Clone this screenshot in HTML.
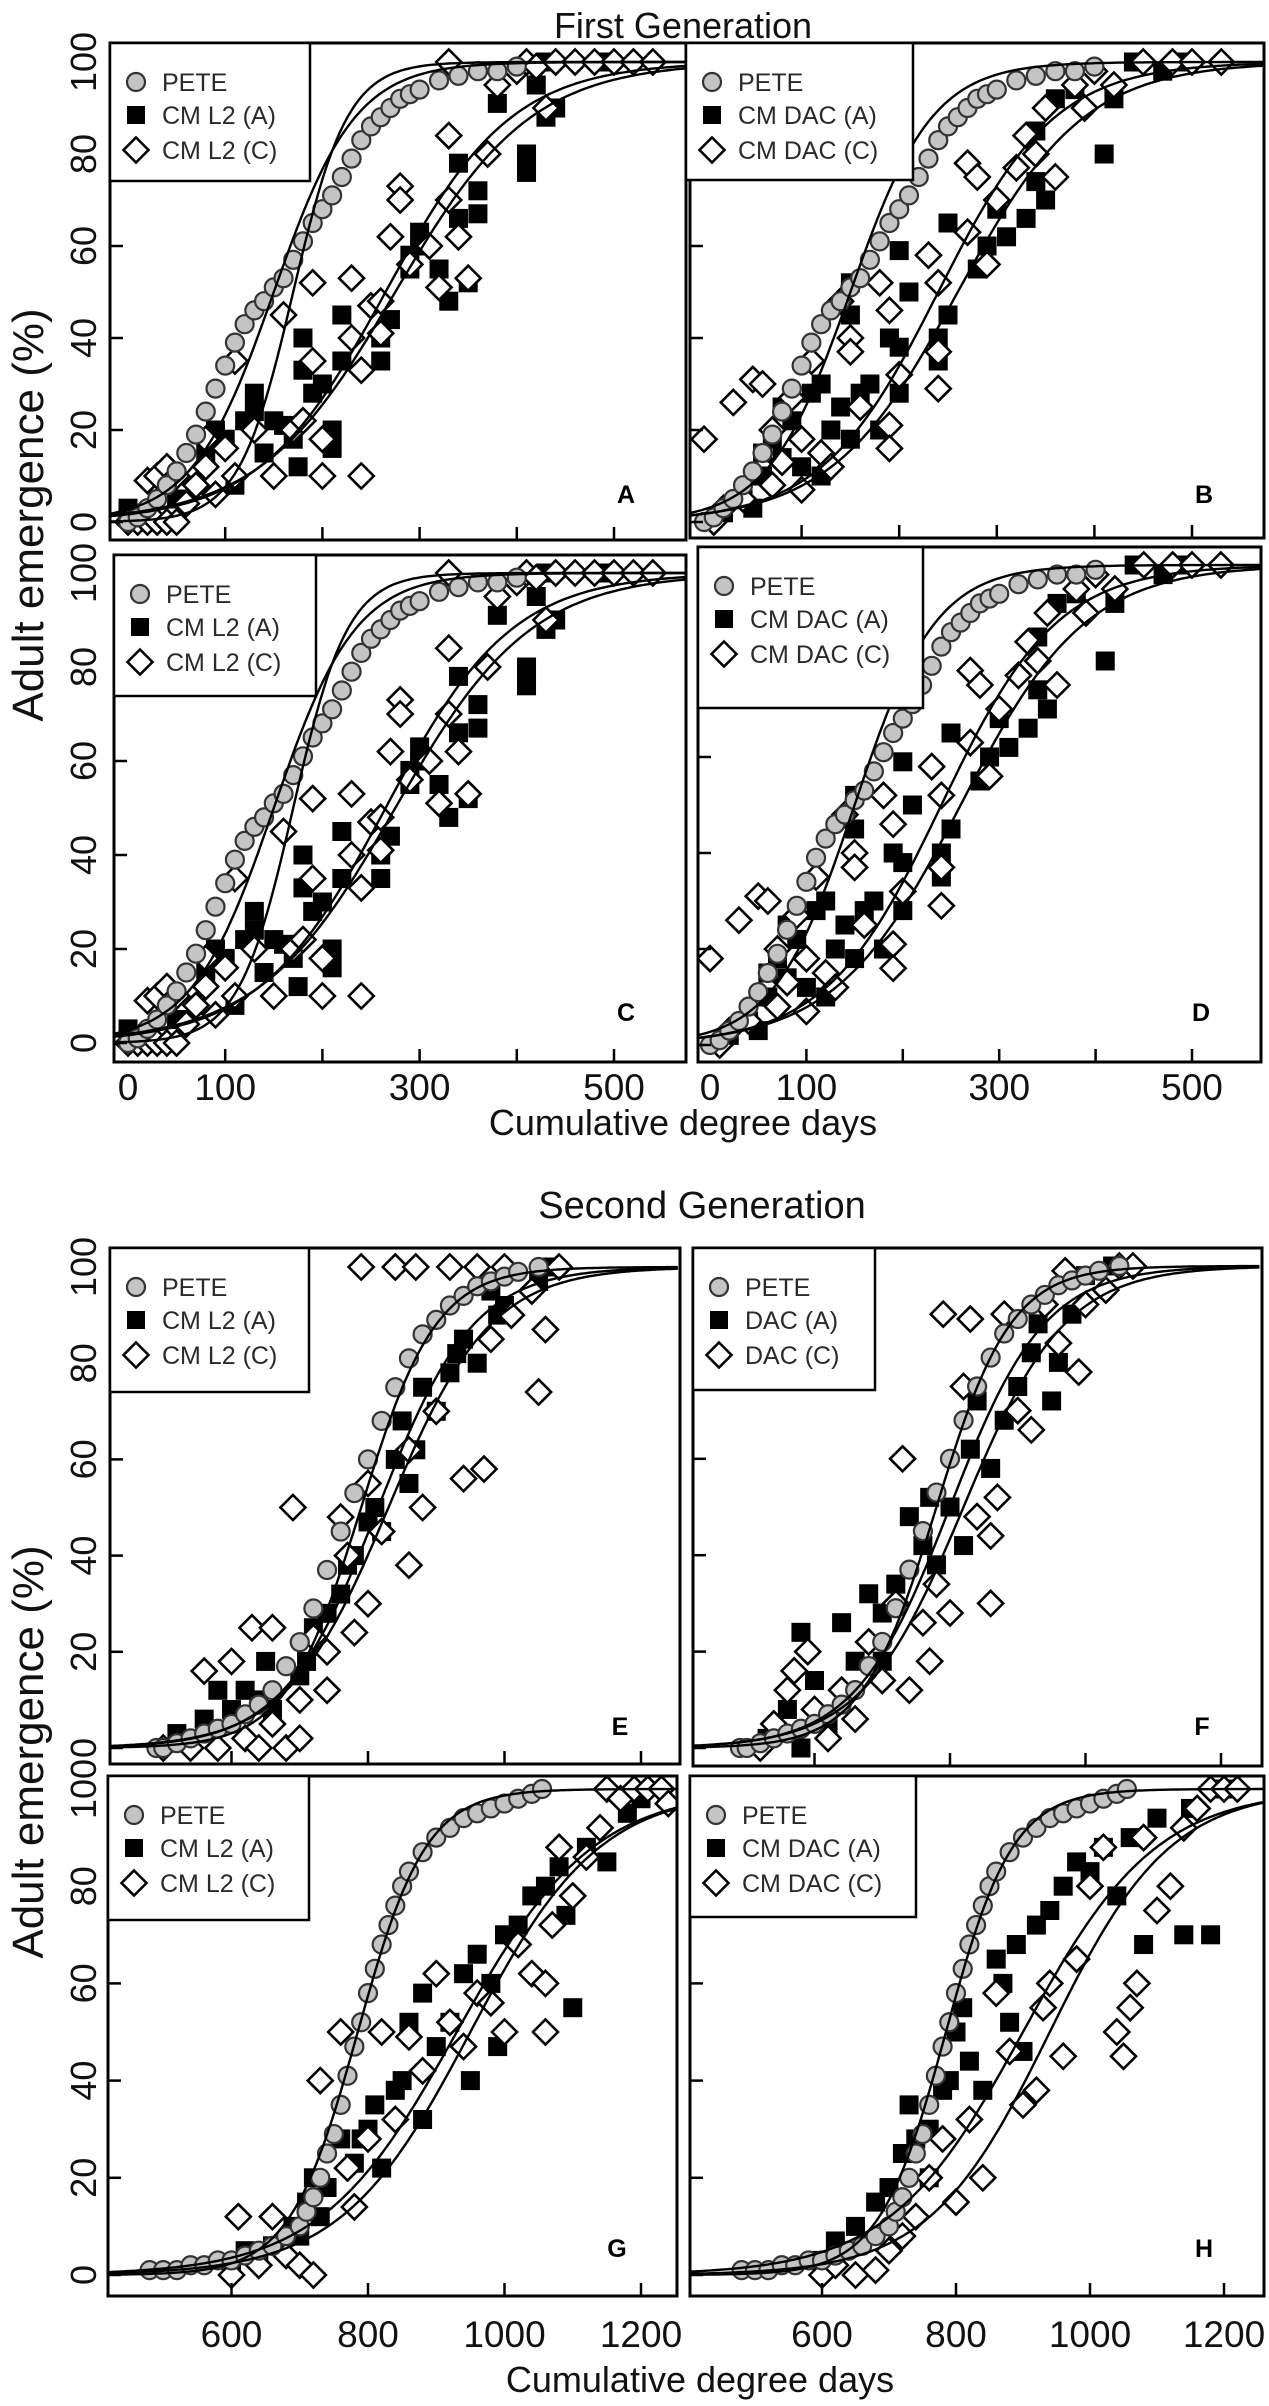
<!DOCTYPE html>
<html><head><meta charset="utf-8">
<style>
html,body{margin:0;padding:0;background:#fff;}
svg{display:block;font-family:"Liberation Sans",Arial,sans-serif;}
</style></head>
<body>
<svg id="fig" width="1269" height="2406" viewBox="0 0 1269 2406" xmlns="http://www.w3.org/2000/svg">
<rect x="0" y="0" width="1269" height="2406" fill="#fff"/>
<text x="683" y="38" font-size="36" text-anchor="middle" fill="#111">First Generation</text>
<text x="683" y="1135" font-size="36" text-anchor="middle" fill="#111">Cumulative degree days</text>
<text x="702" y="1218" font-size="38" text-anchor="middle" fill="#111">Second Generation</text>
<text x="700" y="2392" font-size="36" text-anchor="middle" fill="#111">Cumulative degree days</text>
<text transform="translate(43,515) rotate(-90)" font-size="44" text-anchor="middle" fill="#111">Adult emergence (%)</text>
<text transform="translate(43,1752) rotate(-90)" font-size="44" text-anchor="middle" fill="#111">Adult emergence (%)</text>
<g id="panels"></g>
</svg>
<script>
// ---------- DATA (degree days, % emergence) ----------
const gen1Pete = [[0,0],[10,1],[20,3],[30,5],[40,8],[50,11],[60,15],[70,19],[80,24],[90,29],[100,34],[110,39],[120,43],[130,46],[140,48],[150,51],[160,53],[170,57],[180,61],[190,65],[200,68],[210,71],[220,75],[230,79],[240,83],[250,86],[260,88],[270,90],[280,92],[290,93],[300,94],[320,96],[340,97],[360,98],[380,98],[400,99]];
const gen1L2A = [[0,3],[20,2],[50,5],[70,8],[80,15],[90,20],[100,18],[110,8],[120,22],[130,28],[130,24],[140,15],[150,22],[160,21],[170,18],[175,12],[180,33],[180,40],[190,28],[200,30],[210,20],[210,16],[220,45],[220,35],[260,35],[260,40],[270,44],[290,55],[290,58],[300,63],[300,60],[320,55],[330,48],[340,78],[340,66],[350,52],[360,67],[360,72],[380,91],[410,76],[410,80],[420,95],[430,88],[430,100],[440,90],[490,100]];
const gen1L2C = [[0,0],[10,0],[20,0],[30,0],[40,0],[50,0],[20,9],[30,10],[40,12],[50,10],[60,4],[70,8],[80,18],[80,12],[90,6],[100,16],[110,10],[110,35],[130,20],[150,10],[160,45],[170,20],[180,22],[190,52],[190,35],[200,18],[200,10],[230,53],[230,40],[240,33],[240,10],[250,47],[260,48],[260,41],[270,62],[280,73],[280,70],[290,56],[310,60],[320,51],[330,100],[330,84],[330,70],[340,62],[350,53],[370,80],[380,95],[400,98],[410,100],[420,99],[430,90],[440,100],[460,100],[480,100],[500,100],[520,100],[540,100]];
const gen1DacA = [[20,2],[40,5],[50,3],[60,10],[60,15],[70,18],[80,14],[80,25],[90,22],[100,12],[110,28],[120,30],[120,10],[130,20],[140,25],[150,18],[150,45],[150,52],[160,28],[170,30],[180,20],[190,40],[200,38],[200,28],[200,59],[210,50],[240,40],[240,35],[250,45],[250,65],[280,55],[290,60],[300,68],[310,62],[330,66],[340,74],[340,85],[350,70],[360,92],[380,94],[410,80],[420,92],[440,100],[470,98],[490,100]];
const gen1DacC = [[0,18],[10,0],[20,3],[30,26],[40,5],[50,31],[60,30],[70,20],[70,8],[80,13],[90,27],[100,18],[100,7],[110,35],[120,15],[130,12],[140,48],[150,40],[150,37],[160,25],[180,52],[190,46],[190,21],[190,16],[200,32],[230,58],[240,52],[240,37],[240,29],[270,78],[270,63],[280,75],[290,56],[300,70],[320,77],[330,84],[340,80],[350,90],[360,75],[380,95],[390,90],[400,98],[420,95],[450,100],[480,100],[500,100],[530,100]];
const gen2PeteE = [[490,0],[500,0],[520,1],[540,2],[560,3],[580,4],[600,5],[620,7],[640,9],[660,12],[680,17],[700,22],[720,29],[740,37],[760,45],[780,53],[800,60],[820,68],[840,75],[860,81],[880,86],[900,89],[920,92],[940,94],[960,96],[980,97],[1000,98],[1020,99],[1050,100]];
const gen2L2A_E = [[520,3],[560,6],[580,12],[600,8],[620,12],[640,10],[650,18],[660,8],[700,15],[710,18],[720,25],[740,28],[760,32],[770,38],[780,40],[800,47],[810,50],[820,45],[840,60],[850,68],[860,55],[870,62],[880,75],[900,70],[920,78],[930,82],[940,85],[960,80],[980,95],[990,90],[1000,92],[1050,97],[1070,100]];
const gen2L2C_E = [[500,0],[540,0],[560,16],[580,0],[600,18],[620,2],[630,25],[660,25],[640,0],[660,5],[680,0],[690,50],[700,10],[700,2],[720,23],[740,20],[740,12],[760,48],[770,40],[780,24],[790,100],[800,30],[800,55],[820,45],[840,100],[860,62],[860,38],[870,100],[880,50],[900,70],[920,100],[940,56],[960,100],[970,58],[980,85],[1000,100],[1010,90],[1040,95],[1050,74],[1060,87],[1080,100]];
const gen2DacA_F = [[530,2],[560,8],[580,0],[580,24],[600,14],[620,5],[640,26],[660,18],[680,32],[700,28],[700,18],[720,34],[740,48],[760,42],[770,52],[780,38],[800,50],[820,42],[830,62],[840,72],[860,58],[880,68],[900,75],[920,82],[930,88],[950,72],[960,80],[980,90],[1000,98],[1040,100]];
const gen2DacC_F = [[520,0],[540,5],[560,12],[570,16],[590,20],[600,8],[620,2],[640,12],[660,6],[680,22],[700,14],[720,30],[730,60],[740,12],[760,26],[770,18],[780,34],[790,90],[800,28],[820,75],[830,89],[840,48],[860,44],[860,30],[870,52],[880,90],[900,70],[920,66],[940,92],[960,84],[970,99],[990,78],[1000,92],[1030,95],[1050,100],[1070,100]];
const gen2PeteG = [[480,1],[500,1],[520,1],[540,2],[560,2],[580,3],[600,3],[620,4],[640,5],[660,6],[680,8],[700,10],[710,13],[720,16],[730,20],[740,25],[750,29],[760,35],[770,41],[780,47],[790,52],[800,58],[810,63],[820,68],[830,72],[840,76],[850,80],[860,83],[880,87],[900,90],[920,92],[940,94],[960,95],[980,96],[1000,97],[1020,98],[1040,99],[1055,100]];
const gen2L2A_G = [[600,2],[620,5],[640,4],[660,6],[690,10],[700,8],[710,15],[720,20],[730,12],[740,18],[760,28],[780,23],[790,28],[800,30],[810,35],[820,22],[840,38],[850,40],[860,52],[880,32],[880,58],[900,47],[920,52],[940,62],[950,40],[960,66],[980,60],[990,47],[1000,70],[1020,72],[1040,78],[1060,80],[1080,84],[1090,74],[1100,55],[1120,88],[1150,85],[1180,95],[1200,98]];
const gen2L2C_G = [[600,0],[610,12],[640,2],[660,12],[680,4],[700,2],[720,0],[730,40],[760,50],[770,22],[780,14],[800,28],[820,50],[840,32],[860,49],[880,42],[900,62],[920,52],[940,47],[960,58],[980,56],[1000,50],[1020,68],[1040,62],[1060,50],[1060,60],[1070,72],[1080,88],[1100,78],[1120,86],[1140,92],[1150,100],[1170,98],[1190,100],[1210,100],[1230,100],[1240,97]];
const gen2DacA_H = [[600,3],[620,7],[650,10],[680,15],[700,18],[720,25],[730,35],[740,28],[760,30],[760,20],[780,38],[790,40],[800,50],[810,55],[820,44],[840,38],[860,65],[870,60],[880,52],[890,68],[900,46],[920,72],[940,75],[960,80],[980,85],[1000,83],[1020,88],[1040,78],[1060,90],[1080,68],[1100,94],[1140,70],[1150,96],[1180,70],[1200,100]];
const gen2DacC_H = [[600,0],[620,2],[650,0],[680,1],[700,5],[720,8],[740,12],[760,20],[780,28],[800,15],[820,32],[840,20],[860,58],[880,46],[900,35],[920,38],[930,55],[940,60],[960,45],[980,65],[1000,80],[1020,88],[1040,50],[1050,45],[1060,55],[1070,60],[1080,90],[1100,75],[1120,80],[1140,92],[1160,96],[1180,100],[1200,100],[1220,100]];
// fitted logistic curves [x50, scale]
const curvesL2g1 = [[150,42],[170,28],[265,65],[275,70]];
const curvesDACg1 = [[150,42],[240,60],[260,65]];
const curvesE = [[790,55],[815,70],[830,75]];
const curvesF = [[780,55],[800,70],[820,75]];
const curvesG = [[785,50],[930,100],[950,95]];
const curvesH = [[785,50],[900,100],[940,90]];
// tick values / labels
const yTickVals = [0,20,40,60,80,100];
const xTicksG1 = [100,200,300,400,500];
const xLabelsG1 = [0,100,300,500];
const xTicksG2 = [600,800,1000,1200];
const xLabelsG2 = [600,800,1000,1200];
const legendL2 = ["PETE","CM L2 (A)","CM L2 (C)"];
const legendDAC = ["PETE","CM DAC (A)","CM DAC (C)"];
const legendDACs = ["PETE","DAC (A)","DAC (C)"];

// ---------- LAYOUT ----------
const panels = [
 {id:'a',letter:'A',box:[110,43,686,540],xa:[0,128,500,614],ya:[0,522,100,62],pete:gen1Pete,sa:gen1L2A,dc:gen1L2C,curves:curvesL2g1,leg:legendL2,lb:[110,43,310,181],xt:xTicksG1,xl:null,yl:true,ly:503},
 {id:'b',letter:'B',box:[690,43,1264,538],xa:[0,704,500,1192],ya:[0,522,100,62],pete:gen1Pete,sa:gen1DacA,dc:gen1DacC,curves:curvesDACg1,leg:legendDAC,lb:[686,43,913,180],xt:xTicksG1,xl:null,yl:false,ly:503},
 {id:'c',letter:'C',box:[114,555,686,1062],xa:[0,128,500,614],ya:[0,1043,100,573],pete:gen1Pete,sa:gen1L2A,dc:gen1L2C,curves:curvesL2g1,leg:legendL2,lb:[114,555,316,696],xt:xTicksG1,xl:xLabelsG1,xly:1100,yl:true,ly:1021},
 {id:'d',letter:'D',box:[698,547,1261,1062],xa:[0,710,500,1192],ya:[0,1045,100,565],pete:gen1Pete,sa:gen1DacA,dc:gen1DacC,curves:curvesDACg1,leg:legendDAC,lb:[698,547,923,708],xt:xTicksG1,xl:xLabelsG1,xly:1100,yl:false,ly:1021},
 {id:'e',letter:'E',box:[110,1248,680,1764],xa:[800,368,1200,641],ya:[0,1748,100,1267],pete:gen2PeteE,sa:gen2L2A_E,dc:gen2L2C_E,curves:curvesE,leg:legendL2,lb:[110,1248,309,1392],xt:xTicksG2,xl:null,yl:true,ly:1735},
 {id:'f',letter:'F',box:[693,1248,1262,1766],xa:[800,950,1200,1221],ya:[0,1748,100,1266],pete:gen2PeteE,sa:gen2DacA_F,dc:gen2DacC_F,curves:curvesF,leg:legendDACs,lb:[693,1248,875,1390],xt:xTicksG2,xl:null,yl:false,ly:1735},
 {id:'g',letter:'G',box:[108,1776,677,2296],xa:[800,368,1200,641],ya:[0,2275,100,1789],pete:gen2PeteG,sa:gen2L2A_G,dc:gen2L2C_G,curves:curvesG,leg:legendL2,lb:[108,1776,309,1920],xt:xTicksG2,xl:xLabelsG2,xly:2347,yl:true,ly:2257},
 {id:'h',letter:'H',box:[690,1776,1264,2296],xa:[800,956,1200,1224],ya:[0,2275,100,1789],pete:gen2PeteG,sa:gen2DacA_H,dc:gen2DacC_H,curves:curvesH,leg:legendDAC,lb:[690,1776,916,1917],xt:xTicksG2,xl:xLabelsG2,xly:2347,yl:false,ly:2257}
];

const NS='http://www.w3.org/2000/svg';
const root=document.getElementById('panels');
function mk(tag,attrs,parent){const e=document.createElementNS(NS,tag);for(const k in attrs)e.setAttribute(k,attrs[k]);(parent||root).appendChild(e);return e;}
function sq(g,cx,cy,s){return mk('rect',{x:cx-s/2,y:cy-s/2,width:s,height:s,fill:'#000'},g);}
function dm(g,cx,cy,r){return mk('polygon',{points:`${cx},${cy-r} ${cx+r},${cy} ${cx},${cy+r} ${cx-r},${cy}`,fill:'#fff',stroke:'#000','stroke-width':2.6},g);}
function ci(g,cx,cy,r){return mk('circle',{cx:cx,cy:cy,r:r,fill:'#c4c4c4',stroke:'#333','stroke-width':2.2},g);}

panels.forEach(p=>{
  const sx=v=>p.xa[1]+(v-p.xa[0])*(p.xa[3]-p.xa[1])/(p.xa[2]-p.xa[0]);
  const sy=v=>p.ya[1]+(v-p.ya[0])*(p.ya[3]-p.ya[1])/(p.ya[2]-p.ya[0]);
  const [x0,y0,x1,y1]=p.box;
  const g=mk('g',{});
  
  
  const clip=mk('clipPath',{id:'clip-'+p.id},g);
  mk('rect',{x:x0,y:y0,width:x1-x0,height:y1-y0},clip);
  const pg=mk('g',{'clip-path':'url(#clip-'+p.id+')'},g);
  const gs=mk('g',{},pg);
  
  
  p.sa.forEach(d=>{const e=sq(gs,sx(d[0]),sy(d[1]),19);
    
    });
  const gd=mk('g',{},pg);
  
  
  p.dc.forEach(d=>{const e=dm(gd,sx(d[0]),sy(d[1]),12.5);
    
    });
  const gc=mk('g',{},pg);
  
  
  p.pete.forEach(d=>{const e=ci(gc,sx(d[0]),sy(d[1]),9);
    
    });
  const xmin=p.xa[0]-(p.xa[1]-x0)*(p.xa[2]-p.xa[0])/(p.xa[3]-p.xa[1]);
  const xmax=p.xa[0]+(x1-p.xa[1])*(p.xa[2]-p.xa[0])/(p.xa[3]-p.xa[1]);
  p.curves.forEach(c=>{
    const pts=[];
    for(let v=xmin;v<=xmax;v+=4){const y=100/(1+Math.exp(-(v-c[0])/c[1]));pts.push(sx(v).toFixed(1)+','+sy(y).toFixed(1));}
    const l=mk('polyline',{points:pts.join(' '),fill:'none',stroke:'#000','stroke-width':2.4},pg);
    
    
  });
  const fr=mk('rect',{x:x0,y:y0,width:x1-x0,height:y1-y0,fill:'none',stroke:'#000','stroke-width':3},g);
  
  
  yTickVals.forEach(v=>{const t=mk('line',{x1:x0,x2:x0+13,y1:sy(v),y2:sy(v),stroke:'#000','stroke-width':2.5},g);
    
    
    if(p.yl){const tl=mk('text',{transform:`translate(96,${sy(v)}) rotate(-90)`,'font-size':36,'text-anchor':'middle',fill:'#111'},g);
      tl.textContent=String(v);
      
      }
  });
  p.xt.forEach(v=>{const t=mk('line',{x1:sx(v),x2:sx(v),y1:y1,y2:y1-13,stroke:'#000','stroke-width':2.5},g);
    
    });
  if(p.xl){p.xl.forEach(v=>{const t=mk('text',{x:sx(v),y:p.xly,'font-size':37,'text-anchor':'middle',fill:'#111'},g);
    t.textContent=String(v);
    
    });}
  const [lx0,ly0,lx1,ly1]=p.lb;
  const lg=mk('g',{},g);
  
  
  mk('rect',{x:lx0,y:ly0,width:lx1-lx0,height:ly1-ly0,fill:'#fff',stroke:'#000','stroke-width':2.5},lg);
  const offs=[39,72,107];
  const mx=lx0+26;
  p.leg.forEach((name,i)=>{
    const yy=ly0+offs[i];
    if(i===0)ci(lg,mx,yy,9);else if(i===1)sq(lg,mx,yy,18);else dm(lg,mx,yy,12.5);
    const t=mk('text',{x:lx0+52,y:yy+9,'font-size':25,fill:'#2a2a2a'},lg);
    t.textContent=name;
    
    
  });
  const L=mk('text',{x:x1-60,y:p.ly,'font-size':25,'font-weight':'bold','text-anchor':'middle',fill:'#000'},g);
  L.textContent=p.letter;
  
  
});
</script>
</body></html>
